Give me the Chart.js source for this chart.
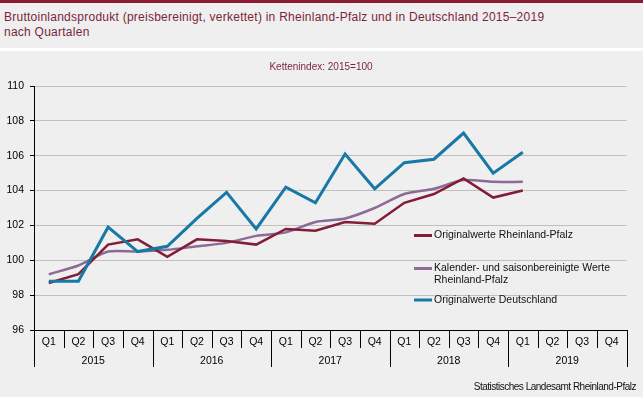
<!DOCTYPE html>
<html lang="de">
<head>
<meta charset="utf-8">
<title>BIP Rheinland-Pfalz und Deutschland</title>
<script src="https://cdn.jsdelivr.net/npm/chart.js@4.4.1/dist/chart.umd.min.js"></script>
<style>
  body { margin:0; width:643px; height:397px; background:#fff; overflow:hidden; position:relative;
         font-family:"Liberation Sans", Arial, sans-serif; }
  #kopf { position:absolute; left:0; top:0; width:643px; height:45px; border-top:3px solid #8b1a35; background:#eeefee; }
  #titel { position:absolute; left:4px; top:7px; font-size:12px; line-height:15px; letter-spacing:0.25px; color:#7d1f3d; white-space:nowrap; }
  #bereich { position:absolute; left:0; top:51px; width:643px; height:346px; background:#eeefee; }
  #quelle { position:absolute; right:7px; top:330px; font-size:10px; letter-spacing:-0.5px; color:#111; white-space:nowrap; }
</style>
</head>
<body>
<div id="kopf">
  <div id="titel">Bruttoinlandsprodukt (preisbereinigt, verkettet) in Rheinland-Pfalz und in Deutschland 2015–2019<br>nach Quartalen</div>
</div>
<div id="bereich">
  <canvas id="bipChart" width="643" height="346"></canvas>
  <div id="quelle">Statistisches Landesamt Rheinland-Pfalz</div>
</div>
<script>
// ===== Daten =====
const quarters = ['Q1','Q2','Q3','Q4','Q1','Q2','Q3','Q4','Q1','Q2','Q3','Q4',
                  'Q1','Q2','Q3','Q4','Q1','Q2','Q3','Q4'];
const years = ['2015','2016','2017','2018','2019'];
const yTicks = [96, 98, 100, 102, 104, 106, 108, 110];

const rpOriginal = [98.7, 99.2, 100.9, 101.2, 100.2, 101.2, 101.1, 100.9, 101.8, 101.7,
                    102.2, 102.1, 103.3, 103.8, 104.7, 103.6, 104.0, null, null, null];
const rpBereinigt = [99.2, 99.7, 100.5, 100.5, 100.6, 100.8, 101.0, 101.4, 101.6, 102.2,
                     102.4, 103.0, 103.8, 104.1, 104.6, 104.5, 104.5, null, null, null];
const deOriginal = [98.8, 98.8, 101.9, 100.5, 100.8, 102.4, 103.9, 101.8, 104.2, 103.3,
                    106.1, 104.1, 105.6, 105.8, 107.3, 105.0, 106.2, null, null, null];

const FONT = '"Liberation Sans", Arial, sans-serif';

// ===== Achse, Legende, Untertitel =====
const extras = {
    id: 'extras',
    afterDraw(chart) {
        const ctx = chart.ctx;
        const x = chart.scales.x;
        const base = chart.chartArea.bottom;
        const w = x.getPixelForValue(1) - x.getPixelForValue(0);
        ctx.save();

        // Trennstriche unter der Achse
        ctx.strokeStyle = '#000';
        ctx.lineWidth = 1;
        for (let i = 0; i <= quarters.length; i++) {
            let px = Math.round(x.getPixelForValue(0) - w / 2 + i * w) + 0.5;
            let len = (i % 4 === 0) ? 37 : 18;
            ctx.beginPath();
            ctx.moveTo(px, base);
            ctx.lineTo(px, base + len);
            ctx.stroke();
        }

        ctx.fillStyle = '#000';
        ctx.font = '10.5px ' + FONT;
        ctx.textAlign = 'center';
        ctx.textBaseline = 'middle';
        quarters.forEach((q, i) => ctx.fillText(q, x.getPixelForValue(i), base + 12));
        years.forEach((j, k) => {
            let mid = (x.getPixelForValue(4 * k) + x.getPixelForValue(4 * k + 3)) / 2;
            ctx.fillText(j, mid, base + 31);
        });

        // Untertitel
        ctx.fillStyle = '#7d1f3d';
        ctx.font = '10px ' + FONT;
        ctx.fillText('Kettenindex: 2015=100', 321, 16);

        // Legende
        const rows = [184.5, 217.5, 249];
        ctx.textAlign = 'left';
        ctx.font = '10.5px ' + FONT;
        [0, 1, 2].forEach((d, r) => {
            let ds = chart.data.datasets[d];
            ctx.strokeStyle = ds.borderColor;
            ctx.lineWidth = 3;
            ctx.beginPath();
            ctx.moveTo(414, rows[r]);
            ctx.lineTo(432, rows[r]);
            ctx.stroke();
            ctx.fillStyle = '#111';
            ds.label.split('\n').forEach((line, n) => ctx.fillText(line, 434, rows[r] + n * 12));
        });
        ctx.restore();
    }
};

new Chart(document.getElementById('bipChart'), {
    type: 'line',
    data: {
        labels: quarters,
        datasets: [
            { label: 'Originalwerte Rheinland-Pfalz', data: rpOriginal,
              borderColor: '#831c36', borderWidth: 2.5, order: 1 },
            { label: 'Kalender- und saisonbereinigte Werte\nRheinland-Pfalz', data: rpBereinigt,
              borderColor: '#8c6b97', borderWidth: 2.5, tension: 0.25, order: 2 },
            { label: 'Originalwerte Deutschland', data: deOriginal,
              borderColor: '#1878a6', borderWidth: 3, order: 0 }
        ]
    },
    options: {
        responsive: false,
        animation: false,
        events: [],
        elements: { point: { radius: 0 } },
        layout: { padding: { top: 35, right: 16.5, bottom: 0, left: 0 } },
        plugins: { legend: { display: false }, title: { display: false }, tooltip: { enabled: false } },
        scales: {
            x: {
                offset: true,
                grid: { display: false },
                ticks: { display: false },
                border: { display: true, color: '#000', width: 1 },
                afterFit(scale) { scale.height = 67; }
            },
            y: {
                min: yTicks[0],
                max: yTicks[yTicks.length - 1],
                afterBuildTicks(scale) { scale.ticks = yTicks.map(v => ({ value: v })); },
                grid: {
                    color: ctx => ctx.tick && ctx.tick.value === yTicks[0] ? 'rgba(0,0,0,0)' : '#bfbfbf',
                    tickColor: '#000',
                    tickLength: 4
                },
                border: { display: true, color: '#000', width: 1 },
                ticks: { color: '#000', padding: 6, font: { family: FONT, size: 10.5 } },
                afterFit(scale) { scale.width = 34; }
            }
        }
    },
    plugins: [extras]
});
</script>
</body>
</html>
